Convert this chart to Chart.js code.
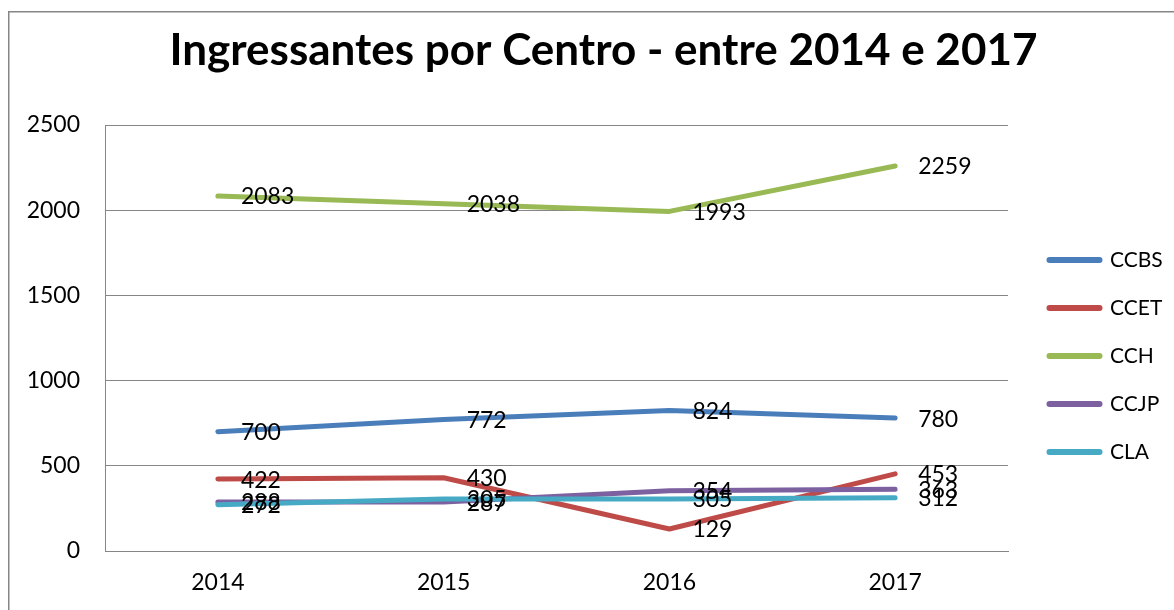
<!DOCTYPE html>
<html>
<head>
<meta charset="utf-8">
<script src="https://cdn.jsdelivr.net/npm/chart.js@4/dist/chart.umd.min.js"></script>
<style>
  html, body { margin: 0; padding: 0; background: #fff; }
  #wrap { width: 1174px; height: 610px; }
</style>
</head>
<body>
<div id="wrap"><canvas id="c" width="1174" height="610"></canvas></div>
<script>
const title = 'Ingressantes por Centro - entre 2014 e 2017';
const categories = ['2014', '2015', '2016', '2017'];
const seriesNames = ['CCBS', 'CCET', 'CCH', 'CCJP', 'CLA'];
const CCBS = [700, 772, 824, 780];
const CCET = [422, 430, 129, 453];
const CCH  = [2083, 2038, 1993, 2259];
const CCJP = [288, 287, 354, 363];
const CLA  = [272, 305, 305, 312];
const yTicks = [0, 500, 1000, 1500, 2000, 2500];

const seriesValues = [CCBS, CCET, CCH, CCJP, CLA];
const colors = ['#4A7EBB', '#BE4B48', '#98B954', '#7D60A0', '#46AAC5'];
const FONT = 'Lato, "Open Sans", sans-serif';

const datasets = seriesNames.map((n, i) => ({
  label: n,
  data: seriesValues[i],
  borderColor: colors[i],
  backgroundColor: colors[i],
  borderWidth: 5,
  borderCapStyle: 'round',
  borderJoinStyle: 'round',
  pointRadius: 0,
  pointHoverRadius: 0,
  tension: 0,
  order: seriesNames.length - i
}));

const frame = {
  id: 'frame',
  beforeDraw(chart) {
    const ctx = chart.ctx;
    ctx.save();
    ctx.fillStyle = '#ffffff';
    ctx.fillRect(0, 0, chart.width, chart.height);
    ctx.strokeStyle = '#868686';
    ctx.lineWidth = 1.5;
    ctx.strokeRect(8.75, 11.75, 1200, 700);
    ctx.restore();
  }
};

const chartTitle = {
  id: 'chartTitle',
  afterDraw(chart) {
    const ctx = chart.ctx;
    ctx.save();
    ctx.font = 'bold 44px ' + FONT;
    ctx.fillStyle = '#000';
    ctx.textAlign = 'center';
    ctx.textBaseline = 'alphabetic';
    ctx.fillText(title, 603.5, 65);
    ctx.restore();
  }
};

const valueLabels = {
  id: 'valueLabels',
  afterDatasetsDraw(chart) {
    const ctx = chart.ctx;
    ctx.save();
    ctx.font = '23px ' + FONT;
    ctx.fillStyle = '#000';
    ctx.textAlign = 'left';
    ctx.textBaseline = 'middle';
    chart.data.datasets.forEach((ds, di) => {
      const meta = chart.getDatasetMeta(di);
      meta.data.forEach((pt, i) => {
        ctx.fillText(String(ds.data[i]), pt.x + 23, pt.y + 1);
      });
    });
    ctx.restore();
  }
};

new Chart(document.getElementById('c'), {
  type: 'line',
  data: { labels: categories, datasets },
  plugins: [frame, valueLabels, chartTitle],
  options: {
    responsive: false,
    animation: false,
    events: [],
    layout: { padding: { left: 0, right: 11.5, top: 125, bottom: 0 } },
    plugins: {
      tooltip: { enabled: false },
      title: { display: false },
      legend: {
        position: 'right',
        align: 'center',
        fullSize: false,
        maxWidth: 140,
        title: { display: true, text: ' ', font: { size: 10, lineHeight: 1.2 }, padding: 12 },
        labels: {
          usePointStyle: true,
          pointStyle: 'line',
          pointStyleWidth: 50,
          padding: 27,
          color: '#000',
          font: { family: FONT, size: 21 },
          sort: (a, b) => a.datasetIndex - b.datasetIndex,
          generateLabels: (chart) => Chart.defaults.plugins.legend.labels.generateLabels(chart)
            .map(l => Object.assign(l, { lineWidth: 6, lineCap: 'round' }))
        }
      }
    },
    scales: {
      x: {
        type: 'category',
        offset: true,
        grid: { display: false, drawTicks: false },
        border: { display: true, color: '#868686', width: 1 },
        ticks: { color: '#000', font: { family: FONT, size: 23 }, padding: 18, maxRotation: 0 },
        afterFit(s) { s.height = 59; }
      },
      y: {
        min: 0,
        max: 2500,
        grid: { color: '#868686', lineWidth: 1, drawTicks: false },
        border: { display: true, color: '#868686', width: 1 },
        ticks: {
          stepSize: 500,
          color: '#000',
          padding: 25,
          font: { family: FONT, size: 23 },
          callback: (v) => yTicks.includes(v) ? String(v) : null
        },
        afterFit(s) { s.width = 105; }
      },
      spacer: {
        type: 'linear',
        position: 'right',
        display: true,
        grid: { display: false, drawTicks: false },
        border: { display: false },
        ticks: { display: false },
        afterFit(s) { s.width = 14.5; }
      }
    }
  }
});
</script>
</body>
</html>
